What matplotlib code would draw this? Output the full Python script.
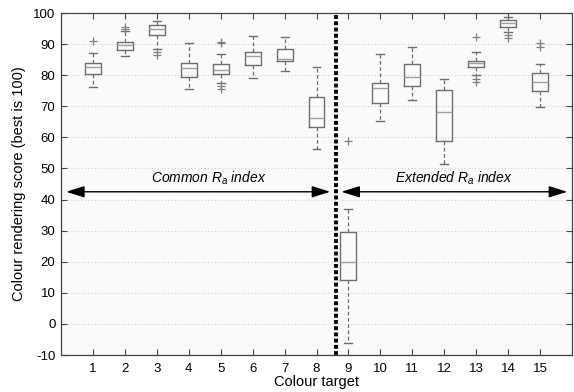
import matplotlib
matplotlib.use("Agg")
import matplotlib.pyplot as plt
from matplotlib.patches import FancyArrowPatch

plt.rcParams['font.family'] = ['Liberation Sans', 'DejaVu Sans']
plt.rcParams['mathtext.fontset'] = 'custom'
plt.rcParams['mathtext.rm'] = 'Liberation Sans'
plt.rcParams['mathtext.it'] = 'Liberation Sans:italic'

targets = list(range(1, 16))
q1 = [80.4, 88.0, 92.8, 79.3, 80.4, 83.4, 84.5, 63.2, 14.1, 71.0, 76.4, 58.7, 82.5, 95.4, 75.0]
medians = [82.7, 89.6, 94.9, 82.2, 81.8, 86.3, 85.3, 66.1, 19.8, 76.0, 79.3, 68.3, 83.8, 96.7, 77.8]
q3 = [83.8, 90.6, 96.0, 83.8, 83.5, 87.3, 88.3, 72.9, 29.5, 77.6, 83.5, 75.1, 84.7, 97.7, 80.6]
whisk_lo = [76.1, 86.2, 88.4, 75.7, 77.4, 79.1, 81.4, 56.3, -6.3, 65.2, 72.1, 51.4, 80.2, 94.0, 69.7]
whisk_hi = [87.0, 94.3, 97.5, 90.2, 86.8, 92.7, 92.4, 82.7, 37.0, 86.7, 89.2, 78.7, 87.6, 98.6, 83.5]
fliers = [[91.1], [95.6, 95.0], [87.6, 86.5], [], [90.6, 90.2, 76.5, 75.4], [], [], [],
          [58.8], [], [], [], [92.2, 78.9, 77.9], [93.0, 92.0], [90.2, 89.0]]

yticks = list(range(-10, 101, 10))
label_common = 'Common $R_a$ index'
label_extended = 'Extended $R_a$ index'

fig = plt.figure(figsize=(5.74, 3.92), dpi=100)
ax = fig.add_axes([61/574, 37/392, 511/574, 342/392])
ax.set_facecolor('#fafafa')

stats = []
for i in range(len(targets)):
    stats.append(dict(med=medians[i], q1=q1[i], q3=q3[i], whislo=whisk_lo[i],
                      whishi=whisk_hi[i], fliers=fliers[i], label=str(targets[i])))

boxc = '#6e6e6e'
ax.bxp(stats, positions=targets, widths=0.5, showfliers=True,
       boxprops=dict(color=boxc, linewidth=1.0),
       medianprops=dict(color='#a0a0a0', linewidth=1.0),
       whiskerprops=dict(color=boxc, linewidth=0.9, linestyle=(0, (3, 2))),
       capprops=dict(color=boxc, linewidth=1.0),
       flierprops=dict(marker='+', markeredgecolor='#808080', markersize=6, markeredgewidth=0.9),
       capwidths=0.25)

ax.set_xlim(0, 16)
ax.set_ylim(-10, 100)
ax.set_xticks(targets)
ax.set_xticklabels([str(t) for t in targets])
ax.set_yticks(yticks)
ax.set_yticklabels([str(t) for t in yticks])
ax.yaxis.grid(True, linestyle=(0, (1, 2)), color='#d0d0d0', linewidth=0.8)
ax.set_axisbelow(True)
ax.tick_params(direction='in', top=True, right=True, length=4, width=0.8,
               color='#444444', labelsize=9.5)
ax.tick_params(axis='x', pad=6)
ax.tick_params(axis='y', pad=4)
for s in ax.spines.values():
    s.set_color('#444444')
    s.set_linewidth(0.9)

ax.axvline(8.6, color='black', linewidth=2.8, linestyle=(0, (1, 0.6)))

arrow_y = 42.5
for x0, x1 in [(0.16, 8.43), (8.78, 15.85)]:
    a = FancyArrowPatch((x0, arrow_y), (x1, arrow_y),
                        arrowstyle='<|-|>,head_length=0.8,head_width=0.25',
                        mutation_scale=14, color='black', linewidth=1.0,
                        shrinkA=0, shrinkB=0)
    ax.add_patch(a)

ax.text(4.62, 45.5, label_common, ha='center', va='baseline', fontsize=10, style='italic')
ax.text(12.3, 45.5, label_extended, ha='center', va='baseline', fontsize=10, style='italic')

ax.set_xlabel('Colour target', fontsize=10.5, labelpad=0)
ax.set_ylabel('Colour rendering score (best is 100)', fontsize=10.5, labelpad=5)

fig.savefig('out.png', dpi=100)
